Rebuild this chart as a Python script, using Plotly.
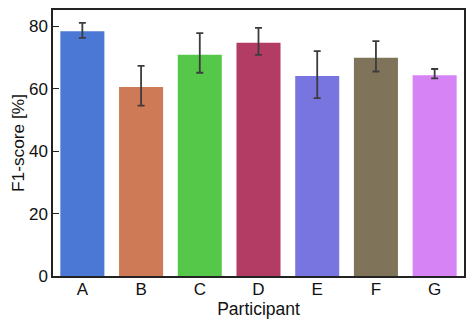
import plotly.graph_objects as go

participants = ["A", "B", "C", "D", "E", "F", "G"]
f1_mean = [78.4, 60.5, 70.9, 74.7, 64.1, 69.9, 64.3]
err_upper = [81.1, 67.3, 77.8, 79.5, 72.0, 75.2, 66.3]
err_lower = [76.3, 54.6, 65.1, 70.8, 57.0, 65.5, 63.3]
bar_colors = ["#4a78d4", "#cf7a56", "#55c84a", "#b23c64", "#7875e0", "#7f735a", "#d683f5"]
y_ticks = [0, 20, 40, 60, 80]

plus = [u - m for u, m in zip(err_upper, f1_mean)]
minus = [m - l for m, l in zip(f1_mean, err_lower)]

fig = go.Figure(go.Bar(
    x=participants,
    y=f1_mean,
    marker=dict(color=bar_colors, line=dict(width=0)),
    width=0.75,
    error_y=dict(type="data", symmetric=False, array=plus, arrayminus=minus,
                 color="#3c3c3c", thickness=1.8, width=3.5),
))

font_family = "Liberation Sans, Arial, sans-serif"
fig.update_layout(
    width=474, height=325,
    margin=dict(l=53, r=8, t=9, b=49),
    paper_bgcolor="white", plot_bgcolor="white",
    font=dict(family=font_family, size=17, color="#111111"),
    showlegend=False,
    xaxis=dict(
        range=[-0.5, 6.5], showline=True, linecolor="#222222", linewidth=1.5,
        mirror=True, ticks="", showgrid=False, tickfont=dict(size=17, color="#111111"),
        ticklabelstandoff=-3,
        title=dict(text="Participant", font=dict(size=17.5, color="#111111"), standoff=0),
    ),
    yaxis=dict(
        range=[0, 85.2], showline=True, linecolor="#222222", linewidth=1.5,
        mirror=True, ticks="inside", ticklen=6, tickwidth=1.2, tickcolor="#222222",
        tickvals=y_ticks, showgrid=False, zeroline=False,
        tickfont=dict(size=17, color="#111111"),
        title=dict(text="F1-score [%]", font=dict(size=17.3, color="#111111"), standoff=0),
    ),
)

fig.write_html("out.html")
